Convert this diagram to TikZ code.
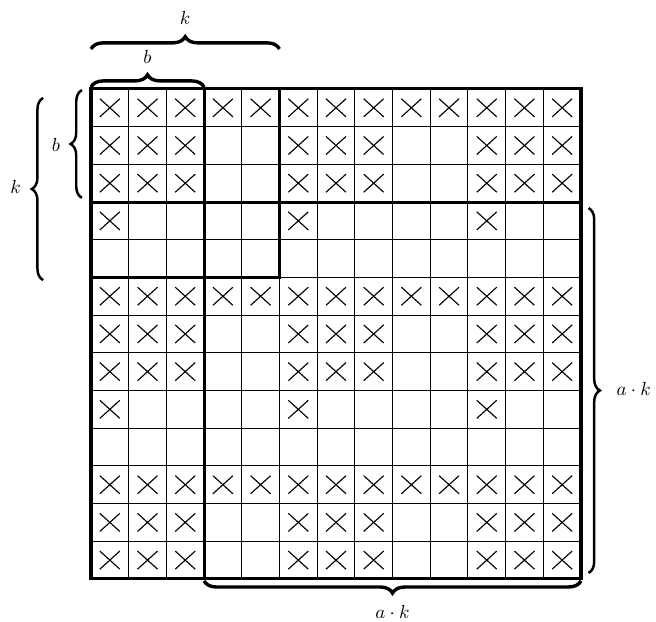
\documentclass[tikz,border=0pt]{standalone}
\usetikzlibrary{decorations.pathreplacing}
\begin{document}
\begin{tikzpicture}[x=0.7cm,y=-0.7cm,
  thingrid/.style={line width=0.5pt},
  thickline/.style={line width=1.6pt},
  cross/.style={line width=0.6pt},
  hbrace/.style={decorate,decoration={brace,amplitude=6.5pt},line width=1.8pt},
  hbracemirror/.style={decorate,decoration={brace,amplitude=6.5pt,mirror},line width=1.8pt},
  vbrace/.style={decorate,decoration={brace,amplitude=6pt},line width=1.3pt}]
\useasboundingbox (-2.414,-2.36) rectangle (14.99,14.14);
% grid
\foreach \i in {1,...,12} {
  \draw[thingrid] (\i,0) -- (\i,13);
  \draw[thingrid] (0,\i) -- (13,\i);
}
% crosses
\foreach \r in {0,...,12} {
  \foreach \c in {0,...,12} {
    \pgfmathtruncatemacro{\isx}{(mod(\r,5)==0) || ((mod(\r,5)<3) && (mod(\c,5)<3)) || ((mod(\r,5)==3) && (mod(\c,5)==0))}
    \ifnum\isx=1
      \draw[cross] (\c+0.235,\r+0.26) -- (\c+0.765,\r+0.74)
                   (\c+0.235,\r+0.74) -- (\c+0.765,\r+0.26);
    \fi
  }
}
% thick lines
\draw[thickline] (0,0) rectangle (13,13);
\draw[thickline] (0,3) -- (13,3);
\draw[thickline] (3,0) -- (3,13);
\draw[thickline] (0,5) -- (5,5) -- (5,0);
% top braces
\coordinate (kt1) at (0,-1.06);
\coordinate (kt2) at (5,-1.06);
\draw[hbrace] (kt1) -- (kt2);
\node (ktlab) at (2.5,-1.88) {$k$};
\coordinate (bt1) at (0,-0.05);
\coordinate (bt2) at (3,-0.05);
\draw[hbrace] (bt1) -- (bt2);
\node (btlab) at (1.5,-0.86) {$b$};
% bottom brace
\coordinate (ab1) at (3,13.05);
\coordinate (ab2) at (13,13.05);
\draw[hbracemirror] (ab1) -- (ab2);
\node (ablab) at (8,13.87) {$a\cdot k$};
% left braces
\coordinate (kl1) at (-1.27,5.07);
\coordinate (kl2) at (-1.27,0.24);
\draw[vbrace] (kl1) -- (kl2);
\node (klab) at (-2.0,2.6) {$k$};
\coordinate (bl1) at (-0.24,2.89);
\coordinate (bl2) at (-0.24,0.03);
\draw[vbrace] (bl1) -- (bl2);
\node (blab) at (-0.93,1.48) {$b$};
% right brace
\coordinate (ar1) at (13.2,3.16);
\coordinate (ar2) at (13.2,12.84);
\draw[vbrace] (ar1) -- (ar2);
\node (aklab) at (14.40,7.96) {$a\cdot k$};
\end{tikzpicture}
\end{document}
